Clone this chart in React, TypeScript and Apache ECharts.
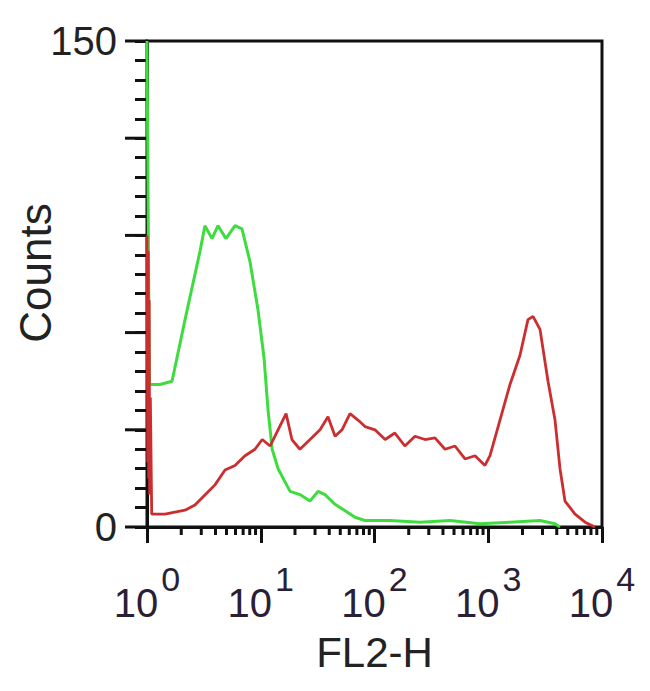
import React, { useEffect, useRef } from "react";
import * as echarts from "echarts";

// FL2-H values (log scale) and counts
const greenFL2 = [1.0, 1.05, 1.3, 1.66, 2.16, 2.92, 3.23, 3.73, 4.21, 4.95, 5.94, 6.84, 8.03, 9.46, 10.7, 11.6, 12.6, 14.2, 18.1, 22.1, 27.1, 31.9, 36.7, 45.0, 55.1, 67.4, 82.5, 137, 251, 461, 846, 1553, 2851, 3863, 4274];
const greenCounts = [150, 44, 44, 45, 64, 85, 93, 89, 93, 89, 93, 92, 82, 67, 52, 36, 24, 18, 11, 10, 8, 11, 10, 7, 5, 3, 2, 2, 1.5, 2, 1, 1.5, 2, 1, 0];

const redFL2 = [1.0, 1.015, 1.025, 1.035, 1.045, 1.055, 1.07, 1.1, 1.44, 1.76, 2.16, 2.64, 3.23, 3.96, 4.85, 5.94, 7.27, 8.9, 10.3, 12.1, 14.2, 16.7, 18.8, 22.1, 27.1, 33.2, 39.0, 45.0, 51.8, 60.9, 71.6, 82.5, 101, 124, 151, 185, 227, 278, 340, 417, 510, 625, 765, 936, 1036, 1268, 1553, 1901, 2234, 2474, 2851, 3352, 3863, 4274, 4727, 5794, 7096, 8670];
const redCounts = [90, 20, 85, 15, 70, 10, 40, 4, 4, 4.6, 5.2, 6.8, 9.9, 13, 17.6, 19, 22, 24, 27, 25, 30, 35, 27, 24, 27, 30, 34, 28, 30, 35, 33, 31, 30, 27, 29, 25, 28, 27, 27.5, 24, 25, 21, 22, 19, 22, 33, 44, 53, 64, 65, 61, 45, 33, 18, 8, 4, 1.5, 0];

const minorTickValues = [2, 3, 4, 5, 6, 7, 8, 9, 20, 30, 40, 50, 60, 70, 80, 90, 200, 300, 400, 500, 600, 700, 800, 900, 2000, 3000, 4000, 5000, 6000, 7000, 8000, 9000];
const majorYTicks = [0, 30, 60, 90, 120, 150];
const yLabelValues = [0, 150];

const FONT = "'Liberation Sans', Arial, sans-serif";

export default function App() {
  const ref = useRef<HTMLDivElement>(null);
  useEffect(() => {
    document.body.style.margin = "0";
    const chart = echarts.init(ref.current!, null, { renderer: "svg" });
    const zip = (xs: number[], ys: number[]) => xs.map((x, i) => [x, ys[i]]);
    const axisLineStyle = { color: "#111", width: 3 };
    chart.setOption({
      animation: false,
      backgroundColor: "#ffffff",
      grid: {
        left: 147,
        right: 48,
        top: 41,
        bottom: 164,
        containLabel: false,
        outerBoundsMode: "none",
        show: true,
        borderColor: "#111",
        borderWidth: 3,
      },
      xAxis: {
        type: "log",
        logBase: 10,
        min: 1,
        max: 10000,
        splitNumber: 4,
        name: "FL2-H",
        nameLocation: "middle",
        nameGap: 104,
        nameMoveOverlap: false,
        nameTextStyle: { fontFamily: FONT, fontSize: 42, color: "#222" },
        axisLine: { onZero: false, lineStyle: axisLineStyle },
        axisTick: { length: 16, lineStyle: axisLineStyle },
        splitLine: { show: false },
        axisLabel: {
          margin: 56,
          fontFamily: FONT,
          formatter: (v: number) => `{b|10}{s|${Math.round(Math.log10(v))}}`,
          rich: {
            b: { fontFamily: FONT, fontSize: 40, lineHeight: 40, color: "#2a2035", verticalAlign: "bottom" },
            s: { fontFamily: FONT, fontSize: 34, lineHeight: 34, color: "#2a2035", verticalAlign: "bottom", padding: [0, 0, 27, 3] },
          },
        },
      },
      yAxis: {
        type: "value",
        min: 0,
        max: 150,
        interval: 6,
        name: "Counts",
        nameLocation: "middle",
        nameGap: 90,
        nameRotate: 90,
        nameMoveOverlap: false,
        nameTextStyle: { fontFamily: FONT, fontSize: 44, color: "#222", padding: [0, 0, 0, 22] },
        axisLine: { show: true, onZero: false, lineStyle: axisLineStyle },
        axisTick: { show: true, length: 12, lineStyle: axisLineStyle },
        splitLine: { show: false },
        axisLabel: {
          margin: 30,
          fontFamily: FONT,
          fontSize: 40,
          color: "#222",
          formatter: (v: number) => (yLabelValues.includes(v) ? String(v) : ""),
        },
      },
      series: [
        {
          type: "line",
          name: "green",
          data: zip(greenFL2, greenCounts),
          showSymbol: false,
          lineStyle: { color: "#3fdc3f", width: 3 },
          clip: true,
        },
        {
          type: "line",
          name: "red",
          data: zip(redFL2, redCounts),
          showSymbol: false,
          lineStyle: { color: "#cc2e30", width: 2.8 },
          clip: true,
        },
        {
          type: "custom",
          silent: true,
          clip: false,
          data: minorTickValues.map((v) => [v, 0]),
          encode: { x: 0, y: 1 },
          renderItem: (params: any, api: any) => {
            const p = api.coord([api.value(0), 0]);
            return {
              type: "line",
              shape: { x1: p[0], y1: p[1], x2: p[0], y2: p[1] + 8 },
              style: { stroke: "#111", lineWidth: 3 },
            };
          },
        },
        {
          type: "custom",
          silent: true,
          clip: false,
          data: majorYTicks.map((v) => [1, v]),
          encode: { x: 0, y: 1 },
          renderItem: (params: any, api: any) => {
            const p = api.coord([api.value(0), api.value(1)]);
            return {
              type: "line",
              shape: { x1: p[0] - 22, y1: p[1], x2: p[0], y2: p[1] },
              style: { stroke: "#111", lineWidth: 3 },
            };
          },
        },
      ],
    });
    return () => chart.dispose();
  }, []);
  return <div ref={ref} style={{ width: 650, height: 691 }} />;
}
